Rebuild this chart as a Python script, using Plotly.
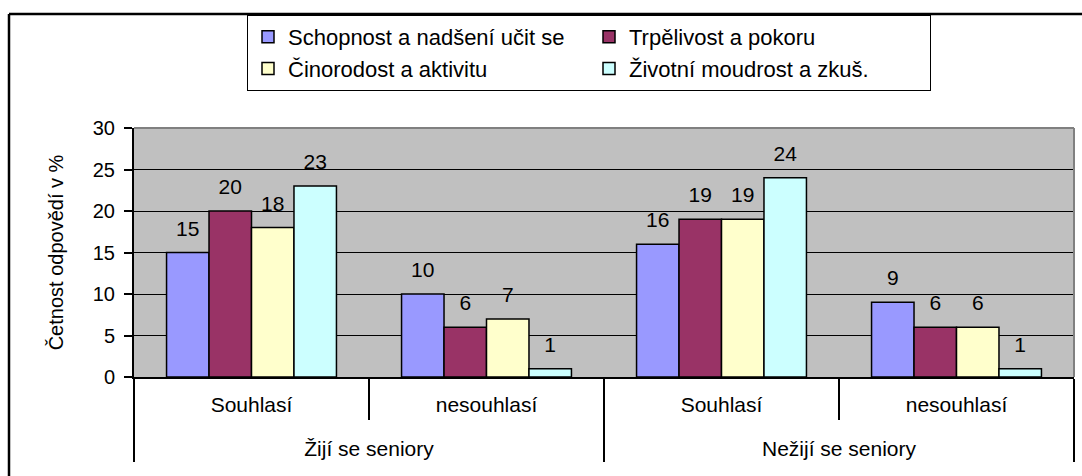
import plotly.graph_objects as go

# ---- data ----
outer_groups = ["Žijí se seniory", "Žijí se seniory", "Nežijí se seniory", "Nežijí se seniory"]
inner_cats = ["Souhlasí", "nesouhlasí", "Souhlasí", "nesouhlasí"]

series_names = [
    "Schopnost a nadšení učit se",
    "Trpělivost a pokoru",
    "Činorodost a aktivitu",
    "Životní moudrost a zkuš.",
]
schopnost = [15, 10, 16, 9]
trpelivost = [20, 6, 19, 6]
cinorodost = [18, 7, 19, 6]
zivotni = [23, 1, 24, 1]
series_values = [schopnost, trpelivost, cinorodost, zivotni]
colors = ["#9999FF", "#993366", "#FFFFCC", "#CCFFFF"]

y_title = "Četnost odpovědí v %"

FONT = "Liberation Sans, Arial, sans-serif"
x = [outer_groups, inner_cats]

fig = go.Figure()
for name, vals, col in zip(series_names, series_values, colors):
    fig.add_trace(go.Bar(
        x=x, y=vals, name=name,
        marker=dict(color=col, line=dict(color="black", width=1.5)),
    ))
# value labels (grouped scatter aligned with bars)
for name, vals in zip(series_names, series_values):
    fig.add_trace(go.Scatter(
        x=x, y=vals, mode="markers+text", text=[str(v) for v in vals],
        textposition="top center",
        textfont=dict(family=FONT, size=21, color="black"),
        marker=dict(size=17, opacity=0),
        showlegend=False, hoverinfo="skip", cliponaxis=False,
    ))

W, H = 1082, 476
L, R, T, B = 134, 8, 128, 99
pw, ph = W - L - R, H - T - B

def px_x(p):
    return (p - L) / pw

def px_y(p):
    return (H - B - p) / ph

shapes = [
    # outer chart frame (top and left edges)
    dict(type="line", xref="paper", yref="paper", x0=px_x(9), x1=px_x(1095),
         y0=px_y(14), y1=px_y(14), line=dict(color="black", width=2.5)),
    dict(type="line", xref="paper", yref="paper", x0=px_x(9), x1=px_x(9),
         y0=px_y(14), y1=px_y(485), line=dict(color="black", width=2.5)),
    # plot area border (top/right, gray)
    dict(type="line", xref="paper", yref="paper", x0=0, x1=1, y0=1, y1=1,
         line=dict(color="#808080", width=2)),
    dict(type="line", xref="paper", yref="paper", x0=1, x1=1, y0=0, y1=1,
         line=dict(color="#808080", width=2)),
]

fig.update_layout(
    width=W, height=H,
    margin=dict(l=L, r=R, t=T, b=B, autoexpand=False),
    paper_bgcolor="white", plot_bgcolor="#C0C0C0",
    font=dict(family=FONT, size=20, color="black"),
    barmode="group", bargap=0.277, bargroupgap=0,
    scattermode="group", scattergap=0.277,
    showlegend=True,
    legend=dict(
        orientation="h", x=px_x(247), y=px_y(15), xanchor="left", yanchor="top",
        bgcolor="white", bordercolor="black", borderwidth=1,
        font=dict(family=FONT, size=22, color="black"),
        entrywidth=296, entrywidthmode="pixels", traceorder="normal",
    ),
    shapes=shapes,
)

# inner labels get an extra blank line so the outer level sits lower
alias = {c: c + "<br>\u00a0" for c in set(inner_cats)}

fig.update_xaxes(
    type="multicategory",
    showline=True, linecolor="black", linewidth=2,
    ticks="outside", tickson="boundaries", ticklen=41, tickwidth=2, tickcolor="black",
    ticklabelstandoff=8,
    labelalias=alias,
    showdividers=True, dividercolor="black", dividerwidth=2,
    tickfont=dict(family=FONT, size=21, color="black"),
    showgrid=False, automargin=False,
)
fig.update_yaxes(
    range=[0, 30], dtick=5, tick0=0,
    showline=True, linecolor="black", linewidth=2,
    ticks="outside", ticklen=8, tickwidth=1.5, tickcolor="black",
    ticklabelstandoff=5,
    showgrid=True, gridcolor="black", gridwidth=1,
    zeroline=False,
    tickfont=dict(family=FONT, size=20, color="black"),
    title=dict(text=y_title, font=dict(family=FONT, size=20, color="black"), standoff=24),
    automargin=False,
)

fig.write_html("out.html", config={"displayModeBar": False},
               post_script="document.body.style.margin='0px';")
